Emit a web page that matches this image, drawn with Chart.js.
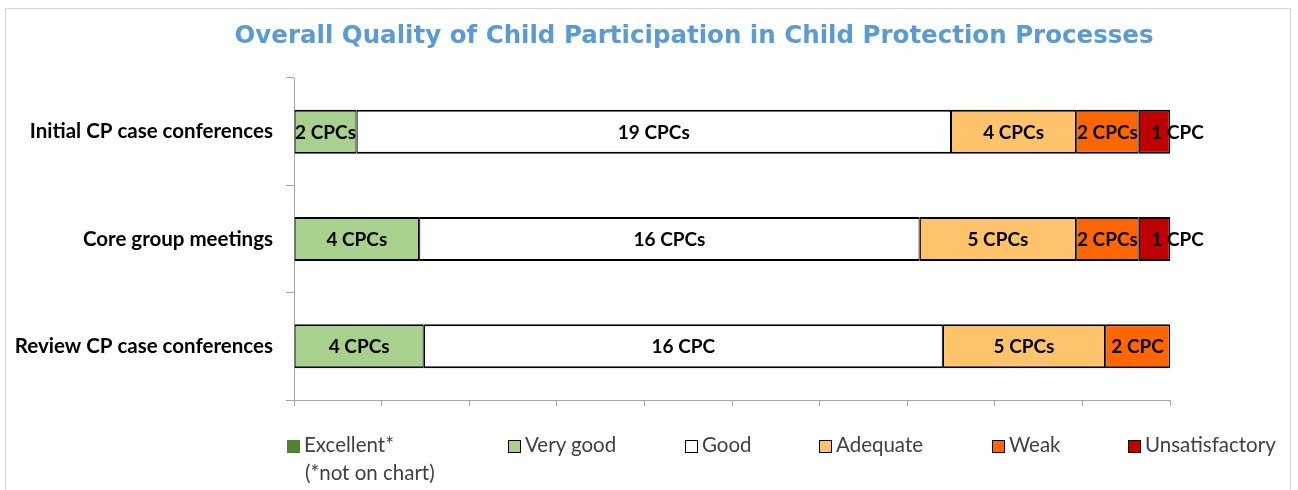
<!DOCTYPE html>
<html>
<head>
<meta charset="utf-8">
<script src="https://cdn.jsdelivr.net/npm/chart.js@4/dist/chart.umd.min.js"></script>
<style>
    body { margin: 0; background: #fff; }
    #page { position: relative; width: 1298px; height: 490px; overflow: hidden; }
    #frame { position: absolute; left: 5px; top: 8px; width: 1286px; height: 500px; border: 1.5px solid #d9d9d9; box-sizing: border-box; }
    #title { position: absolute; left: 0; width: 1388px; top: 20px; text-align: center; font-family: "DejaVu Sans", Verdana, sans-serif; font-weight: bold; font-size: 24.5px; color: #5b9bd5; white-space: nowrap; }
    #chart-box { position: absolute; left: 0; top: 0; width: 1298px; height: 490px; }
    .legend-item { position: absolute; top: 433px; font-family: Lato, sans-serif; font-size: 20.5px; color: #404040; white-space: nowrap; line-height: 22px; }
    .legend-box { display: inline-block; width: 11px; height: 11px; border: 1.5px solid #000; vertical-align: -1px; margin-right: 4px; }
</style>
</head>
<body>
<div id="page">
    <div id="frame"></div>
    <div id="chart-box"><canvas id="myChart" width="1298" height="490"></canvas></div>
    <div id="title">Overall Quality of Child Participation in Child Protection Processes</div>
    <div id="legend"></div>
</div>
<script>
// Categorias e contagens de CPCs por nível de qualidade
const categories = ['Initial CP case conferences', 'Core group meetings', 'Review CP case conferences'];
const ratingNames = ['Excellent*', 'Very good', 'Good', 'Adequate', 'Weak', 'Unsatisfactory'];
const ratingColors = ['#548235', '#a9d18e', '#ffffff', '#ffc36b', '#ff6600', '#c00000'];

const excellent = [0, 0, 0];
const veryGood = [2, 4, 4];
const good = [19, 16, 16];
const adequate = [4, 5, 5];
const weak = [2, 2, 2];
const unsatisfactory = [1, 1, 0];

// Rótulos escritos dentro das barras
const excellentLabels = ['', '', ''];
const veryGoodLabels = ['2 CPCs', '4 CPCs', '4 CPCs'];
const goodLabels = ['19 CPCs', '16 CPCs', '16 CPC'];
const adequateLabels = ['4 CPCs', '5 CPCs', '5 CPCs'];
const weakLabels = ['2 CPCs', '2 CPCs', '2 CPC'];
const unsatisfactoryLabels = ['1 CPC', '1 CPC', ''];

const xTicks = [0, 10, 20, 30, 40, 50, 60, 70, 80, 90, 100];

const seriesCounts = [excellent, veryGood, good, adequate, weak, unsatisfactory];
const seriesLabels = [excellentLabels, veryGoodLabels, goodLabels, adequateLabels, weakLabels, unsatisfactoryLabels];

// Total por linha, para empilhar em 100%
const totals = categories.map((_, i) => seriesCounts.reduce((s, arr) => s + arr[i], 0));

const datasets = seriesCounts.map((counts, k) => ({
    label: ratingNames[k],
    data: counts.map((c, i) => c / totals[i] * 100),
    counts: counts,
    valueLabels: seriesLabels[k],
    backgroundColor: ratingColors[k],
    borderColor: '#000000',
    borderWidth: k === 0 ? 0 : { top: 2, bottom: 2, left: 1.2, right: 1.2 },
    borderSkipped: false,
    barPercentage: 0.41,
    categoryPercentage: 1
}));

// Plugin simples para escrever os rótulos nas barras
const barLabelsPlugin = {
    id: 'barLabels',
    afterDatasetsDraw(chart) {
        const ctx = chart.ctx;
        ctx.save();
        ctx.font = 'bold 19px Lato, sans-serif';
        ctx.fillStyle = '#000';
        ctx.textBaseline = 'middle';
        chart.data.datasets.forEach((ds, di) => {
            const meta = chart.getDatasetMeta(di);
            meta.data.forEach((bar, i) => {
                const text = ds.valueLabels[i];
                if (!text || !ds.counts[i]) return;
                const left = Math.min(bar.x, bar.base);
                const right = Math.max(bar.x, bar.base);
                const cx = (left + right) / 2;
                const w = ctx.measureText(text).width;
                if (w > right - left + 2) {
                    ctx.textAlign = 'left';
                    ctx.fillText(text, cx - 3, bar.y + 1);
                } else {
                    ctx.textAlign = 'center';
                    ctx.fillText(text, cx, bar.y + 1);
                }
            });
        });
        ctx.restore();
    }
};

new Chart(document.getElementById('myChart').getContext('2d'), {
    type: 'bar',
    data: { labels: categories, datasets: datasets },
    options: {
        indexAxis: 'y',
        responsive: false,
        animation: false,
        layout: { padding: { left: 0, right: 128, top: 78, bottom: 82 } },
        scales: {
            x: {
                stacked: true,
                min: 0,
                max: 100,
                afterBuildTicks: function(scale) {
                    scale.ticks = xTicks.map(v => ({ value: v }));
                },
                ticks: { display: false },
                grid: { display: true, drawOnChartArea: false, drawTicks: true, tickLength: 6, color: '#a6a6a6' },
                border: { display: true, color: '#a6a6a6' },
                afterFit: function(scale) { scale.height = 8; }
            },
            y: {
                stacked: true,
                ticks: {
                    color: '#000',
                    padding: 13,
                    font: { family: 'Lato, sans-serif', weight: 'bold', size: 20.5 }
                },
                grid: { display: true, drawOnChartArea: false, drawTicks: true, tickLength: 8, color: '#a6a6a6' },
                border: { display: true, color: '#a6a6a6' },
                afterFit: function(scale) { scale.width = 294; }
            }
        },
        plugins: {
            legend: { display: false },
            title: { display: false },
            tooltip: { enabled: false }
        }
    },
    plugins: [barLabelsPlugin]
});

// Legenda em HTML, gerada a partir das séries
const legendLeft = [287, 508, 685, 819, 992, 1128];
const legendEl = document.getElementById('legend');
datasets.forEach((ds, k) => {
    const item = document.createElement('div');
    item.className = 'legend-item';
    item.style.left = legendLeft[k] + 'px';
    const box = document.createElement('span');
    box.className = 'legend-box';
    box.style.background = ds.backgroundColor;
    if (k === 0) { box.style.borderColor = ds.backgroundColor; }
    item.appendChild(box);
    item.appendChild(document.createTextNode(ds.label));
    if (k === 0) {
        const note = document.createElement('div');
        note.style.paddingLeft = '18px';
        note.style.marginTop = '6px';
        note.textContent = '(*not on chart)';
        item.appendChild(note);
    }
    legendEl.appendChild(item);
});
</script>
</body>
</html>
